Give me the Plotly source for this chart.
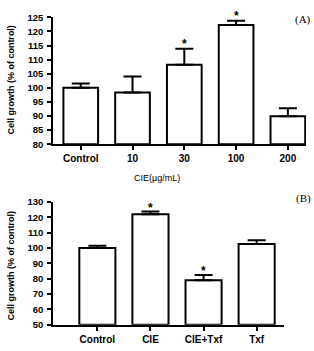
import plotly.graph_objects as go

# Panel A data
a_cats = ["Control", "10", "30", "100", "200"]
a_vals = [100.0, 98.3, 108.2, 122.3, 89.9]
a_errs = [1.5, 5.7, 5.7, 1.5, 2.9]
a_sig = [False, False, True, True, False]

# Panel B data
b_cats = ["Control", "CIE", "CIE+Txf", "Txf"]
b_vals = [100.0, 122.0, 78.9, 102.6]
b_errs = [1.5, 1.7, 3.5, 2.5]
b_sig = [False, True, True, False]

W, H = 314, 351


def px2x(p):
    return p / W


def px2y(p):
    return 1 - p / H


fig = go.Figure()

bar_style = dict(
    marker=dict(color="white", line=dict(color="black", width=2)),
    showlegend=False,
)

fig.add_trace(go.Bar(
    x=a_cats, y=[v - 80 for v in a_vals], base=80, width=0.67,
    error_y=dict(type="data", symmetric=False, array=a_errs,
                 arrayminus=[0] * len(a_errs), color="black",
                 thickness=2, width=9),
    xaxis="x", yaxis="y", **bar_style))

fig.add_trace(go.Bar(
    x=b_cats, y=[v - 50 for v in b_vals], base=50, width=0.68,
    error_y=dict(type="data", symmetric=False, array=b_errs,
                 arrayminus=[0] * len(b_errs), color="black",
                 thickness=2, width=9),
    xaxis="x2", yaxis="y2", **bar_style))

tickfont = dict(family="Liberation Sans", size=10, color="black", weight="bold")
yfont = dict(family="Liberation Sans", size=9.5, color="black", weight="bold")

common_x = dict(type="category", showline=True, linecolor="black", linewidth=2,
                ticks="outside", ticklen=4, tickwidth=2, tickcolor="black",
                showgrid=False, zeroline=False, tickfont=tickfont,
                fixedrange=True)
common_y = dict(showline=True, linecolor="black", linewidth=2,
                ticks="outside", ticklen=4, tickwidth=2, tickcolor="black",
                showgrid=False, zeroline=False, tickfont=yfont,
                ticklabelstandoff=2)

fig.update_layout(
    width=W, height=H, autosize=False,
    margin=dict(l=0, r=0, t=0, b=0),
    paper_bgcolor="white", plot_bgcolor="white",
    xaxis=dict(domain=[px2x(53.3), px2x(306)], range=[-0.53, 4.35],
               anchor="y", **common_x),
    yaxis=dict(domain=[px2y(142.7), px2y(11.7)], range=[80, 125], dtick=5,
               tick0=80, anchor="x", **common_y),
    xaxis2=dict(domain=[px2x(53.3), px2x(284)], range=[-0.83, 3.515],
                anchor="y2", **common_x),
    yaxis2=dict(domain=[px2y(329), px2y(202.3)], range=[50, 130], dtick=10,
                tick0=50, anchor="x2", **common_y),
)

ann = []
star_font = dict(family="Liberation Sans", size=12, color="black", weight="bold")
# significance stars
for i, (v, e, s) in enumerate(zip(a_vals, a_errs, a_sig)):
    if s:
        ann.append(dict(x=i, y=v + e, xref="x", yref="y", text="*",
                        showarrow=False, xanchor="center", yanchor="middle",
                        yshift=5, font=star_font))
for i, (v, e, s) in enumerate(zip(b_vals, b_errs, b_sig)):
    if s:
        ann.append(dict(x=i, y=v + e, xref="x2", yref="y2", text="*",
                        showarrow=False, xanchor="center", yanchor="middle",
                        yshift=4, font=star_font))

ytitle_font = dict(family="Liberation Sans", size=9, color="black", weight="bold")
common_ann = dict(xref="paper", yref="paper", showarrow=False,
                  xanchor="center", yanchor="middle")
ann.append(dict(x=px2x(11), y=px2y(76), text="Cell growth (% of control)",
                textangle=-90, font=ytitle_font, **common_ann))
ann.append(dict(x=px2x(11), y=px2y(268), text="Cell growth (% of control)",
                textangle=-90, font=ytitle_font, **common_ann))
ann.append(dict(x=px2x(157), y=px2y(178), text="CIE(µg/mL)",
                font=dict(family="Liberation Sans", size=9, color="black"),
                **common_ann))
ann.append(dict(x=px2x(303), y=px2y(14), text="(A)",
                font=dict(family="Liberation Serif", size=11, color="black"),
                **common_ann))
ann.append(dict(x=px2x(303), y=px2y(199), text="(B)",
                font=dict(family="Liberation Serif", size=11, color="black"),
                **common_ann))

fig.update_layout(annotations=ann)

fig.write_html("out.html")
